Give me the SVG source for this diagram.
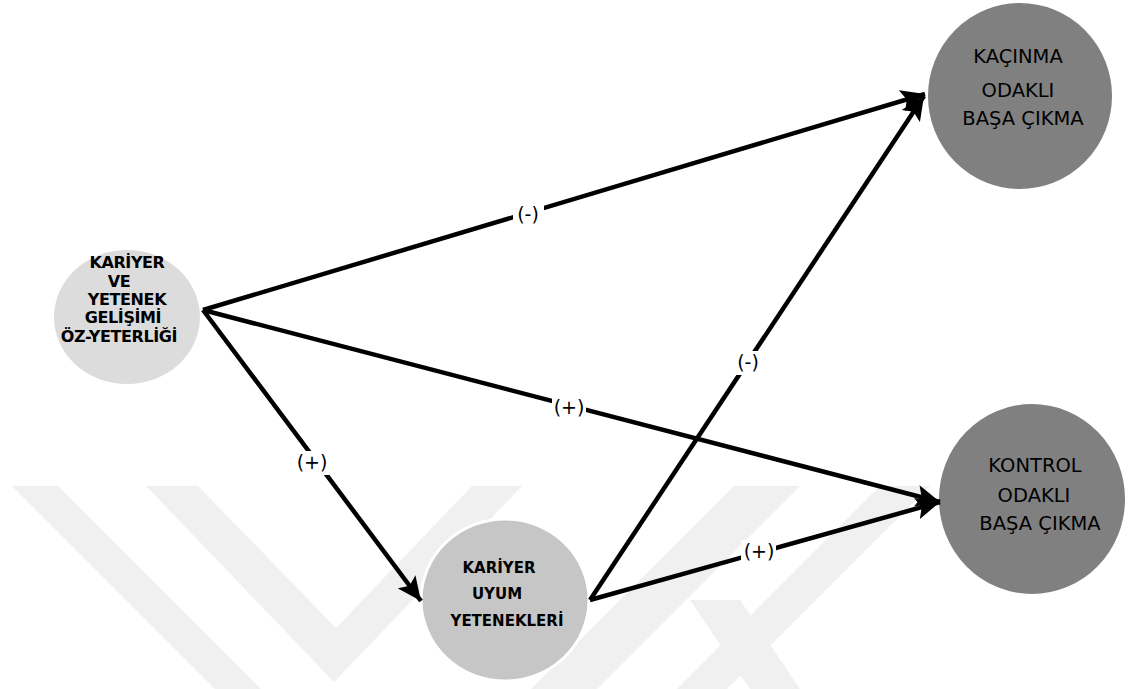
<svg xmlns="http://www.w3.org/2000/svg" width="1129" height="689" viewBox="0 0 1129 689">
<style>
.wm{fill:#f0f0f0}
.n1{fill:#dcdcdc}
.n2{fill:#c6c6c6;stroke:#ffffff;stroke-width:3}
.n3{fill:#808080;stroke:#ffffff;stroke-width:2}
.tb{font-family:"DejaVu Sans",sans-serif;font-weight:bold;font-size:15px;fill:#000;text-anchor:middle}
.tb1{font-size:16px;letter-spacing:-0.4px}
.tc{font-family:"DejaVu Sans",sans-serif;font-size:19.5px;fill:#000;text-anchor:middle}
.edge{stroke:#000;stroke-width:4.5;fill:none;marker-end:url(#ah)}
.lbg{fill:#ffffff}
.lt{font-family:"DejaVu Sans",sans-serif;font-size:19px;fill:#000;text-anchor:middle}
</style>
<defs>
<marker id="ah" markerUnits="userSpaceOnUse" markerWidth="26" markerHeight="22" refX="24" refY="11" orient="auto">
<path d="M0,0 L24,11 L0,22 L5,11 z" fill="#000"/>
</marker>
</defs>
<rect width="1129" height="689" fill="#ffffff"/>
<g id="watermark">
<polygon class="wm" points="12,486 58,486 261,689 215,689"/>
<polygon class="wm" points="146,486 198,486 336,628 472,486 522,486 334,682"/>
<polygon class="wm" points="734,486 800,486 597,689 531,689"/>
<polygon class="wm" points="880,486 930,486 727,689 677,689"/>
<polygon class="wm" points="690,600 740,600 800,689 750,689"/>
</g>
<g id="node-ozyeterlik">
<ellipse class="n1" cx="127" cy="317" rx="73" ry="67"/>
<text class="tb tb1" x="127" y="268">KARİYER</text>
<text class="tb tb1" x="119" y="287">VE</text>
<text class="tb tb1" x="127" y="305">YETENEK</text>
<text class="tb tb1" x="123" y="323">GELİŞİMİ</text>
<text class="tb tb1" x="119" y="342">ÖZ-YETERLİĞİ</text>
</g>
<g id="node-uyum">
<ellipse class="n2" cx="505" cy="600" rx="84" ry="81"/>
<text class="tb" x="499" y="573">KARİYER</text>
<text class="tb" x="497" y="599">UYUM</text>
<text class="tb" x="507" y="626">YETENEKLERİ</text>
</g>
<g id="node-kacinma">
<ellipse class="n3" cx="1020" cy="96" rx="93" ry="94"/>
<text class="tc" x="1018" y="63">KAÇINMA</text>
<text class="tc" x="1018" y="97">ODAKLI</text>
<text class="tc" x="1023" y="125">BAŞA ÇIKMA</text>
</g>
<g id="node-kontrol">
<ellipse class="n3" cx="1032" cy="499" rx="94" ry="96"/>
<text class="tc" x="1035" y="472">KONTROL</text>
<text class="tc" x="1034" y="502">ODAKLI</text>
<text class="tc" x="1040" y="530">BAŞA ÇIKMA</text>
</g>
<g id="connectors">
<line class="edge" x1="203" y1="310" x2="925" y2="94"/>
<line class="edge" x1="203" y1="310" x2="940" y2="502"/>
<line class="edge" x1="203" y1="310" x2="421" y2="601"/>
<line class="edge" x1="590" y1="600" x2="924" y2="96"/>
<line class="edge" x1="590" y1="600" x2="940" y2="502"/>
<rect class="lbg" x="513" y="203" width="31" height="24"/>
<text class="lt" x="528" y="221">(-)</text>
<rect class="lbg" x="552" y="396" width="34" height="24"/>
<text class="lt" x="569" y="414">(+)</text>
<rect class="lbg" x="294" y="451" width="35" height="24"/>
<text class="lt" x="312" y="469">(+)</text>
<rect class="lbg" x="732" y="351" width="31" height="24"/>
<text class="lt" x="748" y="369">(-)</text>
<rect class="lbg" x="741" y="540" width="35" height="24"/>
<text class="lt" x="759" y="558">(+)</text>
</g>
</svg>
